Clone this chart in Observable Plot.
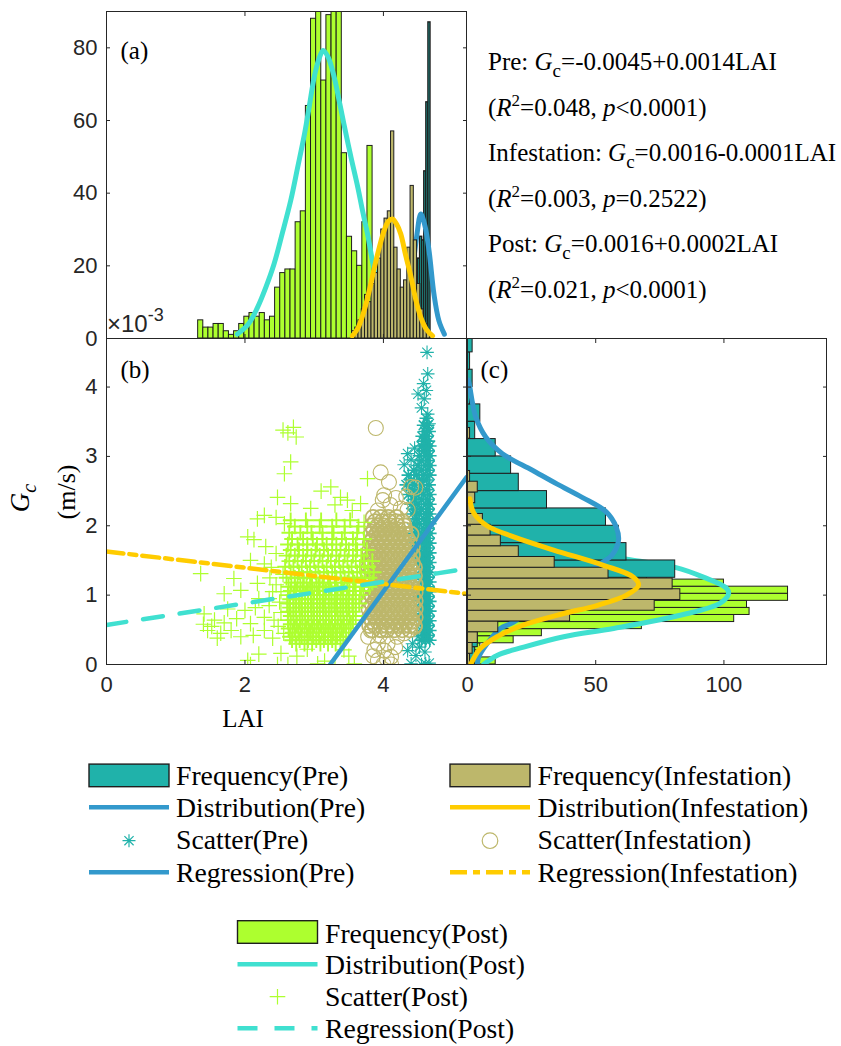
<!DOCTYPE html>
<html><head><meta charset="utf-8">
<script src="https://cdn.jsdelivr.net/npm/d3@7"></script>
<script src="https://cdn.jsdelivr.net/npm/@observablehq/plot@0.6"></script>
<style>
body{margin:0;background:#fff;}
#root{position:relative;width:841px;height:1046px;overflow:hidden;background:#fff;}
</style></head><body><div id="root"></div>
<script>
// ---------------- DATA ----------------
// Panel (a): LAI histograms (bin start, bin width, counts)
const postStartA = 1.324, postWidthA = 0.0741;
const postCountsA = [5,3,3,4,4,2,1,2,4,6,7,6,7,5,6,14,18,19,19,32,35,64,88,95,71,89,95,100,51,28,24,20,32,53];
const infStartA = 3.546, infWidthA = 0.047;
const infCountsA = [2,3,5,8,12,10,15,18,22,30,33,35,57,25,19,14,16,25,42,27,15,8,4,2];
const preStartA = 4.26, preWidthA = 0.03;
const preCountsA = [2,4,6,9,11,14,16,17,22,28,27,46,65,87];
// Panel (a): fitted distributions [LAI, count]
const postDistA = [[1.89,1.2],[2.05,4],[2.18,8.5],[2.30,14],[2.42,20.5],[2.54,29],[2.66,37.9],[2.76,47],[2.86,56.3],[2.93,64],[3.0,71.9],[3.07,77],[3.13,79.3],[3.20,77.5],[3.29,71.9],[3.36,65.5],[3.43,59],[3.53,50],[3.63,41.6],[3.70,35],[3.77,28.8],[3.87,18.6],[3.97,11.5],[4.08,6],[4.2,2.8],[4.37,0.8]];
const infDistA = [[3.55,0.7],[3.63,2.8],[3.72,7.6],[3.80,13.5],[3.87,19.6],[3.94,25],[4.01,29.7],[4.07,32.2],[4.13,32.9],[4.19,31.5],[4.25,28.8],[4.32,23],[4.40,16.8],[4.47,10.5],[4.54,5.8],[4.62,2.5],[4.71,0.7]];
const preDistA = [[4.15,1.5],[4.25,4.5],[4.35,11],[4.42,19],[4.48,28],[4.54,34.3],[4.60,31],[4.66,24],[4.73,12.2],[4.80,5],[4.88,1.2]];

// Panel (c): Gc histograms (x10^-3 m/s)
const postStartC = 0, postWidthC = 0.102;
const postCountsC = [11,3,5,18,29,68,104,110,109,125,125,100,70,50,35,25,18,12,8,6,4,3,2,1,1];
const preStartC = 0, preWidthC = 0.25;
const preCountsC = [3,4,10,30,55,81,62,59,54,31,20,17,11,3,5,1,2,1,2];
const infStartC = 0, infWidthC = 0.155;
const infCountsC = [1,2,4,12,40,73,83,80,55,34,20,13,9,6,2,3,4,1,0,0,0,1];
// Panel (c): fitted distributions [count, Gc]
const preDistC = [[0.3,4.1],[0.9,4.0],[1.8,3.8],[3.2,3.57],[7.1,3.28],[13.6,3.04],[25.3,2.80],[35,2.6],[44.7,2.41],[54.1,2.20],[58,1.98],[58.9,1.79],[56.3,1.575],[53,1.48],[46,1.3],[38,1.1],[28,0.88],[18,0.61],[12.8,0.52],[7.6,0.30],[4.4,0.11],[3.8,0.0]];
const infDistC = [[0.9,2.39],[2.5,2.18],[7.6,2.0],[18,1.84],[33.6,1.65],[53,1.43],[64.7,1.26],[66.7,1.14],[62,1.0],[50.4,0.85],[37.5,0.735],[21.9,0.57],[11.5,0.40],[5,0.23],[1.2,0.0]];
const postDistC = [[0.5,2.8],[1.5,2.5],[4.5,2.25],[13,2.0],[26,1.8],[45,1.62],[63.4,1.51],[81,1.40],[92,1.26],[101,1.10],[101.8,1.02],[98.4,0.88],[83,0.71],[57,0.52],[37.5,0.40],[21.9,0.25],[11.5,0.13],[6.3,0.0]];

// Panel (b): scatter. Isolated points as [LAI, Gc]; dense clouds as rows [Gc, LAI, LAI, ...]
const preScatter = [[4.63,4.50],[4.64,4.19],[4.50,3.90],[4.59,3.83],[4.64,3.61],[4.66,3.47],[4.55,3.70],[4.35,3.04],[4.40,2.95],[4.30,2.88],[4.45,3.12],[4.47,0.13],[4.61,0.01],[4.40,0.01],[4.35,0.20],[4.42,0.30],[4.55,0.00],[4.52,0.25],[4.62,3.95],[4.58,4.05],[4.66,0.02],[4.60,0.18],[4.50,0.40]];
const preRows = [
[0.35,4.55,4.61,4.67],[0.42,4.58,4.64],[0.49,4.55,4.61,4.67],[0.56,4.58,4.64],[0.63,4.55,4.61,4.67],[0.70,4.52,4.58,4.64],
[0.77,4.55,4.61,4.67],[0.84,4.58,4.64],[0.91,4.55,4.61,4.67],[0.98,4.52,4.58,4.64],[1.05,4.55,4.61,4.67],[1.12,4.58,4.64],
[1.19,4.55,4.61,4.67],[1.26,4.52,4.58,4.64],[1.33,4.55,4.61,4.67],[1.40,4.58,4.64],[1.47,4.49,4.55,4.61,4.67],[1.54,4.52,4.58,4.64],
[1.61,4.47,4.55,4.61,4.67],[1.68,4.50,4.58,4.64],[1.75,4.46,4.55,4.61,4.67],[1.82,4.50,4.58,4.64],[1.89,4.45,4.55,4.61,4.67],[1.96,4.49,4.58,4.64],
[2.03,4.44,4.52,4.61,4.67],[2.10,4.48,4.58,4.64],[2.17,4.42,4.52,4.61,4.67],[2.24,4.46,4.55,4.64],[2.31,4.40,4.50,4.61,4.67],[2.38,4.45,4.55,4.64],
[2.45,4.36,4.47,4.58,4.67],[2.52,4.42,4.52,4.63],[2.59,4.33,4.45,4.56,4.66],[2.66,4.40,4.52,4.62],[2.73,4.36,4.48,4.58,4.67],[2.80,4.44,4.55,4.64],
[2.87,4.50,4.61,4.67],[2.94,4.55,4.64],[3.01,4.52,4.61,4.67],[3.08,4.58,4.64],[3.15,4.55,4.61,4.67],[3.22,4.58,4.65],
[3.29,4.56,4.63],[3.36,4.60,4.66],[3.45,4.58,4.64],[3.55,4.62]];
const infScatter = [[3.89,3.41],[3.96,2.77],[4.08,2.63],[4.01,2.44],[3.99,2.37],[4.40,2.56],[4.46,2.55],[4.33,2.42],[4.35,2.23],[4.25,2.25],[3.92,2.22],[4.10,2.30],[4.18,2.40],
[3.82,0.49],[3.92,0.30],[4.01,0.20],[4.11,0.11],[3.92,0.06],[4.11,0.00],[4.40,0.63],[4.45,0.54],[3.87,0.21],[4.06,0.30],[3.85,0.12],[4.20,0.40],[4.30,0.45],[4.00,0.00],[4.17,0.25],[3.78,0.40],[3.95,0.42],[4.05,0.08]];
const infRows = [
[0.50,3.84,3.95,4.05,4.16,4.27,4.38],[0.56,3.80,3.88,3.97,4.05,4.13,4.22,4.30,4.38,4.45],[0.62,3.84,3.92,4.01,4.09,4.17,4.26,4.34,4.42],
[0.68,3.80,3.88,3.97,4.05,4.13,4.22,4.30,4.38,4.46],[0.74,3.84,3.92,4.01,4.09,4.17,4.26,4.34,4.42],[0.80,3.79,3.88,3.97,4.05,4.13,4.22,4.30,4.38,4.46],
[0.86,3.84,3.92,4.01,4.09,4.17,4.26,4.34,4.42],[0.92,3.79,3.88,3.97,4.05,4.13,4.22,4.30,4.38,4.46],[0.98,3.84,3.92,4.01,4.09,4.17,4.26,4.34,4.42],
[1.04,3.78,3.88,3.97,4.05,4.13,4.22,4.30,4.38,4.46],[1.10,3.83,3.92,4.01,4.09,4.17,4.26,4.34,4.42],[1.16,3.78,3.88,3.97,4.05,4.13,4.22,4.30,4.38,4.46],
[1.22,3.83,3.92,4.01,4.09,4.17,4.26,4.34,4.42],[1.28,3.78,3.88,3.97,4.05,4.13,4.22,4.30,4.38,4.45],[1.34,3.83,3.92,4.01,4.09,4.17,4.26,4.34,4.42],
[1.40,3.79,3.88,3.97,4.05,4.13,4.22,4.30,4.38,4.45],[1.46,3.84,3.92,4.01,4.09,4.17,4.26,4.34,4.42],[1.52,3.80,3.88,3.97,4.05,4.13,4.22,4.30,4.38],
[1.58,3.84,3.92,4.01,4.09,4.17,4.26,4.34,4.42],[1.64,3.80,3.88,3.97,4.05,4.13,4.22,4.30,4.38],[1.70,3.84,3.92,4.01,4.09,4.17,4.26,4.34,4.42],
[1.76,3.81,3.89,3.97,4.05,4.13,4.22,4.30,4.38],[1.82,3.85,3.93,4.01,4.09,4.17,4.26,4.34],[1.88,3.82,3.90,3.98,4.06,4.14,4.22,4.31,4.40],
[1.94,3.86,3.95,4.04,4.13,4.22,4.31],[2.00,3.83,3.92,4.01,4.10,4.20,4.30],[2.06,3.88,3.98,4.08,4.18,4.28],[2.12,3.85,3.96,4.07,4.19]];
const postScatter = [[2.55,3.38],[2.70,3.42],[2.74,3.28],[2.62,3.34],[2.66,2.92],[2.57,2.75],[3.10,2.50],[3.24,2.56],[3.38,2.41],[3.48,2.37],[2.47,2.41],[2.66,2.32],[3.77,2.68],[3.67,2.32],[2.18,2.10],[2.28,2.15],[2.57,2.03],[2.04,1.84],[2.13,1.80],[2.45,2.12],[3.55,2.22],[3.72,2.05],[2.95,2.25],[3.30,2.30],
[1.36,1.31],[1.84,1.24],[2.08,1.50],[2.28,1.45],[1.70,1.02],[1.94,1.07],[2.18,1.17],[2.36,1.25],[2.20,0.95],[2.40,1.05],[2.45,1.60],[2.30,1.70],
[1.41,0.73],[1.56,0.64],[1.46,0.49],[1.65,0.45],[1.80,0.49],[1.94,0.40],[2.08,0.59],[2.28,0.68],[2.28,0.49],[2.42,0.64],[1.52,0.55],[1.70,0.60],[1.88,0.66],[2.00,0.78],[2.15,0.82],[1.60,0.38],[2.35,0.85],[2.50,0.90],[1.40,0.58],[2.12,0.42],[2.40,0.38],[1.75,0.80],
[2.04,0.06],[2.08,0.00],[2.52,0.16],[2.47,0.00],[3.05,0.01],[3.58,0.01],[3.43,0.21],[3.15,0.05],[2.75,0.12],[3.30,0.00],[2.90,0.22],[2.62,0.00],[3.50,0.12],[2.20,0.15],
[2.35,0.95],[2.45,1.15],[2.52,0.75],[2.55,1.30],[2.48,0.55],[2.38,1.40],[2.52,1.05],[2.56,0.45]];
const postRows = [
[0.30,2.74,2.86,2.97,3.09,3.20,3.31],[0.35,2.68,2.79,2.91,3.03,3.14,3.26,3.38],
[0.40,2.65,2.73,2.82,2.90,2.99,3.07,3.16,3.24,3.33,3.42],[0.46,2.69,2.77,2.86,2.94,3.03,3.11,3.20,3.28,3.37,3.46],
[0.52,2.63,2.72,2.80,2.89,2.97,3.06,3.14,3.23,3.31,3.40,3.50],[0.58,2.66,2.75,2.83,2.92,3.00,3.09,3.17,3.26,3.34,3.43,3.53],
[0.64,2.62,2.70,2.79,2.87,2.96,3.04,3.13,3.21,3.30,3.38,3.47,3.56],[0.70,2.66,2.74,2.83,2.91,3.00,3.08,3.17,3.25,3.34,3.42,3.51,3.60],
[0.76,2.62,2.70,2.79,2.87,2.96,3.04,3.13,3.21,3.30,3.38,3.47,3.56],[0.82,2.65,2.74,2.82,2.91,2.99,3.08,3.16,3.25,3.33,3.42,3.50,3.60],
[0.88,2.61,2.70,2.78,2.87,2.95,3.04,3.12,3.21,3.29,3.38,3.46,3.55,3.65],[0.94,2.65,2.74,2.82,2.91,2.99,3.08,3.16,3.25,3.33,3.42,3.50,3.60],
[1.00,2.62,2.70,2.79,2.87,2.96,3.04,3.13,3.21,3.30,3.38,3.47,3.56,3.66],[1.06,2.66,2.74,2.83,2.91,3.00,3.08,3.17,3.25,3.34,3.42,3.51,3.60,3.71],
[1.12,2.63,2.72,2.80,2.89,2.97,3.06,3.14,3.23,3.31,3.40,3.48,3.57,3.68,3.80],[1.18,2.67,2.76,2.85,2.94,3.03,3.12,3.21,3.30,3.39,3.48,3.58,3.70,3.84],
[1.25,2.60,2.72,2.84,2.96,3.08,3.20,3.32,3.44,3.56,3.68,3.80],[1.33,2.66,2.78,2.90,3.02,3.14,3.26,3.38,3.50,3.62,3.74,3.86],
[1.41,2.58,2.70,2.82,2.94,3.06,3.18,3.30,3.42,3.54,3.66,3.78],[1.49,2.64,2.76,2.88,3.00,3.12,3.24,3.36,3.48,3.60,3.72,3.84],
[1.57,2.60,2.72,2.84,2.96,3.08,3.20,3.32,3.44,3.56,3.68],[1.65,2.66,2.78,2.90,3.02,3.14,3.26,3.38,3.50,3.62,3.76],
[1.73,2.62,2.76,2.90,3.04,3.18,3.32,3.46,3.60],[1.81,2.68,2.84,2.98,3.12,3.26,3.40,3.56,3.72],
[1.90,2.64,2.80,2.96,3.12,3.28,3.44,3.62],[1.99,2.72,2.90,3.08,3.26,3.44,3.64],[2.08,2.66,2.88,3.10,3.32,3.52]];
// Panel (b): regression line end points [LAI, Gc]
const preReg = [[3.23,0],[5.2,2.7]];
const infReg = [[0,1.63],[5.2,1.02]];
const postReg = [[0,0.57],[5.2,1.38]];

// Ticks
const yTicksA = [0,20,40,60,80];
const xTicksAB = [0,2,4];
const yTicksBC = [0,1,2,3,4];
const xTicksC = [0,50,100];

// Text
const equations = [
  {name:"Pre", eq:"=-0.0045+0.0014LAI", r2:"0.048", p:"<0.0001"},
  {name:"Infestation", eq:"=0.0016-0.0001LAI", r2:"0.003", p:"=0.2522"},
  {name:"Post", eq:"=0.0016+0.0002LAI", r2:"0.021", p:"<0.0001"}
];

// ---------------- STYLE ----------------
const SANS = "Liberation Sans, Arial, Helvetica, sans-serif";
const SERIF = "Liberation Serif, Times New Roman, serif";
const C = {pre:"#20B2AA", inf:"#BDB76B", post:"#ADFF2F", preLine:"#3399CC", infLine:"#FFCC00", postLine:"#40E0D0", axis:"#262626", edge:"#1e1e1e"};
const DASH_INF = "17,6,7,6", DASH_POST = "20,17";

const toBins = (start, width, counts) => counts.map((n, i) => ({lo: start + i*width, hi: start + (i+1)*width, n}));
const xy = arr => arr.map(([x, y]) => ({x, y}));
const fromRows = rows => rows.flatMap(([g, ...ls]) => ls.map(l => [l, g]));

const asterisk = {draw(ctx, size){ const r = Math.sqrt(size/Math.PI), d = r*Math.SQRT1_2;
  ctx.moveTo(-r,0); ctx.lineTo(r,0); ctx.moveTo(0,-r); ctx.lineTo(0,r);
  ctx.moveTo(-d,-d); ctx.lineTo(d,d); ctx.moveTo(-d,d); ctx.lineTo(d,-d);}};
const plus = {draw(ctx, size){ const r = Math.sqrt(size/Math.PI);
  ctx.moveTo(-r,0); ctx.lineTo(r,0); ctx.moveTo(0,-r); ctx.lineTo(0,r);}};

function inTicks(axis, ticks, anchor){
  const o = {anchor, tickSize: 4, tickFormat: () => "", label: null, stroke: C.axis};
  if (axis === "x") return Plot.axisX(ticks, {...o, dy: anchor === "bottom" ? -4 : 4});
  return Plot.axisY(ticks, {...o, dx: anchor === "left" ? 4 : -4});
}
const labelStyle = {tickSize: 0, label: null, fontSize: 22, fontFamily: SANS, fill: C.axis, tickFormat: d => String(d)};
const panelLabel = (t, dx, dy) => Plot.text([t], {text: d => d, frameAnchor: "top-left", dx, dy, textAnchor: "start", lineAnchor: "middle", fontFamily: SERIF, fontSize: 25, fill: "#000"});
const svgStyle = {background: "transparent", overflow: "visible", color: C.axis, fontFamily: SANS};

const root = document.getElementById("root");
function place(el, left, top){ el.style.position = "absolute"; el.style.left = left + "px"; el.style.top = top + "px"; root.appendChild(el); }

// ---------------- PANEL (a) ----------------
const barA = (bins, fill, sw = 1) => Plot.rectY(bins, {x1: "lo", x2: "hi", y: "n", fill, stroke: C.edge, strokeWidth: sw, clip: true});
const distA = (pts, stroke) => Plot.line(xy(pts), {x: "x", y: "y", stroke, strokeWidth: 5, curve: "catmull-rom", clip: true});
const chartA = Plot.plot({
  width: 470, height: 345, marginLeft: 106, marginRight: 4, marginTop: 11, marginBottom: 7,
  style: svgStyle,
  x: {domain: [0, 5.2], label: null}, y: {domain: [0, 90], label: null},
  marks: [
    barA(toBins(postStartA, postWidthA, postCountsA), C.post),
    distA(postDistA, C.postLine),
    barA(toBins(preStartA, preWidthA, preCountsA), C.pre, 1.4),
    distA(preDistA, C.preLine),
    barA(toBins(infStartA, infWidthA, infCountsA), C.inf),
    distA(infDistA, C.infLine),
    Plot.frame({stroke: C.axis}),
    Plot.axisY(yTicksA, {anchor: "left", tickPadding: 9, ...labelStyle}),
    inTicks("y", yTicksA, "left"), inTicks("y", yTicksA, "right"),
    inTicks("x", xTicksAB, "bottom"), inTicks("x", xTicksAB, "top"),
    panelLabel("(a)", 14, 39)
  ]
});
place(chartA, 0, 0);

// ---------------- PANEL (b) ----------------
const dots = (pts, symbol, r, stroke, sw) => Plot.dot(xy(pts), {x: "x", y: "y", symbol, r, stroke, fill: "none", strokeWidth: sw, clip: true});
const chartB = Plot.plot({
  width: 470, height: 440, marginLeft: 106, marginRight: 4, marginTop: 38, marginBottom: 76,
  style: svgStyle,
  x: {domain: [0, 5.2], label: null}, y: {domain: [0, 4.7], label: null},
  marks: [
    dots(fromRows(preRows), asterisk, 6.8, C.pre, 1.6),
    dots(preScatter, asterisk, 6.8, C.pre, 1.1),
    dots(fromRows(infRows), "circle", 7.5, C.inf, 1.7),
    dots(infScatter, "circle", 7.5, C.inf, 1.1),
    dots(fromRows(postRows), plus, 7.8, C.post, 1.9),
    dots(postScatter, plus, 7.8, C.post, 1.2),
    Plot.line(xy(preReg), {x: "x", y: "y", stroke: C.preLine, strokeWidth: 4.5, clip: true}),
    Plot.line(xy(infReg), {x: "x", y: "y", stroke: C.infLine, strokeWidth: 4.5, strokeDasharray: DASH_INF, clip: true}),
    Plot.line(xy(postReg), {x: "x", y: "y", stroke: C.postLine, strokeWidth: 4.5, strokeDasharray: DASH_POST, clip: true}),
    Plot.frame({stroke: C.axis}),
    Plot.axisY(yTicksBC, {anchor: "left", tickPadding: 9, ...labelStyle}),
    Plot.axisX(xTicksAB, {anchor: "bottom", tickPadding: 12, ...labelStyle}),
    inTicks("y", yTicksBC, "left"), inTicks("y", yTicksBC, "right"),
    inTicks("x", xTicksAB, "bottom"), inTicks("x", xTicksAB, "top"),
    panelLabel("(b)", 14, 31)
  ]
});
place(chartB, 0, 300);

// ---------------- PANEL (c) ----------------
const barC = (bins, fill) => Plot.rectX(bins, {y1: "lo", y2: "hi", x: "n", fill, stroke: C.edge, strokeWidth: 1, clip: true});
const distC = (pts, stroke) => Plot.line(xy(pts), {x: "x", y: "y", stroke, strokeWidth: 5, curve: "catmull-rom", clip: true});
const chartC = Plot.plot({
  width: 400, height: 440, marginLeft: 27, marginRight: 14, marginTop: 38, marginBottom: 76,
  style: svgStyle,
  x: {domain: [0, 140], label: null}, y: {domain: [0, 4.7], label: null},
  marks: [
    barC(toBins(postStartC, postWidthC, postCountsC), C.post),
    distC(postDistC, C.postLine),
    barC(toBins(preStartC, preWidthC, preCountsC), C.pre),
    distC(preDistC, C.preLine),
    barC(toBins(infStartC, infWidthC, infCountsC), C.inf),
    distC(infDistC, C.infLine),
    Plot.frame({stroke: C.axis}),
    Plot.axisX(xTicksC, {anchor: "bottom", tickPadding: 12, ...labelStyle}),
    inTicks("y", yTicksBC, "left"), inTicks("y", yTicksBC, "right"),
    inTicks("x", xTicksC, "bottom"), inTicks("x", xTicksC, "top"),
    panelLabel("(c)", 13, 31)
  ]
});
place(chartC, 440, 300);

// ---------------- TEXT OVERLAY & LEGEND ----------------
const ns = "http://www.w3.org/2000/svg";
let s = `<svg xmlns="${ns}" width="841" height="1046" style="position:absolute;left:0;top:0;pointer-events:none;overflow:visible">`;
s += `<text x="107" y="332" font-family="${SANS}" font-size="24" fill="${C.axis}">×10<tspan dy="-11" font-size="18">-3</tspan></text>`;
const eqBase = [70, 115.5, 161, 206.5, 252, 297.5];
equations.forEach((e, i) => {
  s += `<text x="488" y="${eqBase[2*i]}" font-family="${SERIF}" font-size="25" fill="#000">${e.name}: <tspan font-style="italic">G</tspan><tspan dy="7" font-size="19">c</tspan><tspan dy="-7">${e.eq}</tspan></text>`;
  s += `<text x="488" y="${eqBase[2*i+1]}" font-family="${SERIF}" font-size="25" fill="#000">(<tspan font-style="italic">R</tspan><tspan dy="-10" font-size="17">2</tspan><tspan dy="10">=${e.r2}, </tspan><tspan font-style="italic">p</tspan>${e.p.replace("<","&lt;")})</text>`;
});
s += `<text transform="translate(29,498) rotate(-90)" text-anchor="middle" font-family="${SERIF}" font-size="27" fill="#000"><tspan font-style="italic">G</tspan><tspan font-style="italic" dy="7" font-size="20">c</tspan></text>`;
s += `<text transform="translate(75,492) rotate(-90)" text-anchor="middle" font-family="${SERIF}" font-size="26" fill="#000">(m/s)</text>`;
s += `<text x="243" y="727" text-anchor="middle" font-family="${SERIF}" font-size="25" fill="#000">LAI</text>`;

const legendItems = [
  {type:"patch", fill:C.pre, label:"Frequency(Pre)", x:89, tx:176, cy:775.4, base:785},
  {type:"line", stroke:C.preLine, label:"Distribution(Pre)", x:89, tx:176, cy:807.3, base:816.7},
  {type:"asterisk", stroke:C.pre, label:"Scatter(Pre)", x:89, tx:176, cy:840.7, base:849.3},
  {type:"line", stroke:C.preLine, label:"Regression(Pre)", x:89, tx:176, cy:872.3, base:881.7},
  {type:"patch", fill:C.inf, label:"Frequency(Infestation)", x:450, tx:537.5, cy:775.4, base:785},
  {type:"line", stroke:C.infLine, label:"Distribution(Infestation)", x:450, tx:537.5, cy:807.3, base:816.7},
  {type:"circle", stroke:C.inf, label:"Scatter(Infestation)", x:450, tx:537.5, cy:840.7, base:849.3},
  {type:"line", stroke:C.infLine, dash:DASH_INF, label:"Regression(Infestation)", x:450, tx:537.5, cy:872.3, base:881.7},
  {type:"patch", fill:C.post, label:"Frequency(Post)", x:237.5, tx:325, cy:932, base:942.7},
  {type:"line", stroke:C.postLine, label:"Distribution(Post)", x:237.5, tx:325, cy:964.3, base:974.3},
  {type:"plus", stroke:C.post, label:"Scatter(Post)", x:237.5, tx:325, cy:996.7, base:1006},
  {type:"line", stroke:C.postLine, dash:DASH_POST, label:"Regression(Post)", x:237.5, tx:325, cy:1028.3, base:1038}
];
const LW = 80;
legendItems.forEach(it => {
  const cx = it.x + LW/2;
  if (it.type === "patch") s += `<rect x="${it.x}" y="${it.cy-11.3}" width="${LW}" height="22.6" fill="${it.fill}" stroke="${C.edge}" stroke-width="1.4"/>`;
  else if (it.type === "line") s += `<line x1="${it.x}" x2="${it.x+LW}" y1="${it.cy}" y2="${it.cy}" stroke="${it.stroke}" stroke-width="4.5" ${it.dash ? `stroke-dasharray="${it.dash}"` : ""}/>`;
  else {
    const type = it.type === "asterisk" ? asterisk : it.type === "plus" ? plus : d3.symbolCircle;
    const rr = it.type === "circle" ? 7.8 : it.type === "plus" ? 7.8 : 6.5;
    const path = d3.symbol().type(type).size(Math.PI * rr * rr)();
    s += `<path transform="translate(${cx},${it.cy})" d="${path}" fill="none" stroke="${it.stroke}" stroke-width="1.2"/>`;
  }
  s += `<text x="${it.tx}" y="${it.base}" font-family="${SERIF}" font-size="27.7" fill="#000">${it.label}</text>`;
});
s += `</svg>`;
const holder = document.createElement("div");
holder.innerHTML = s;
place(holder.firstChild, 0, 0);
</script></body></html>
